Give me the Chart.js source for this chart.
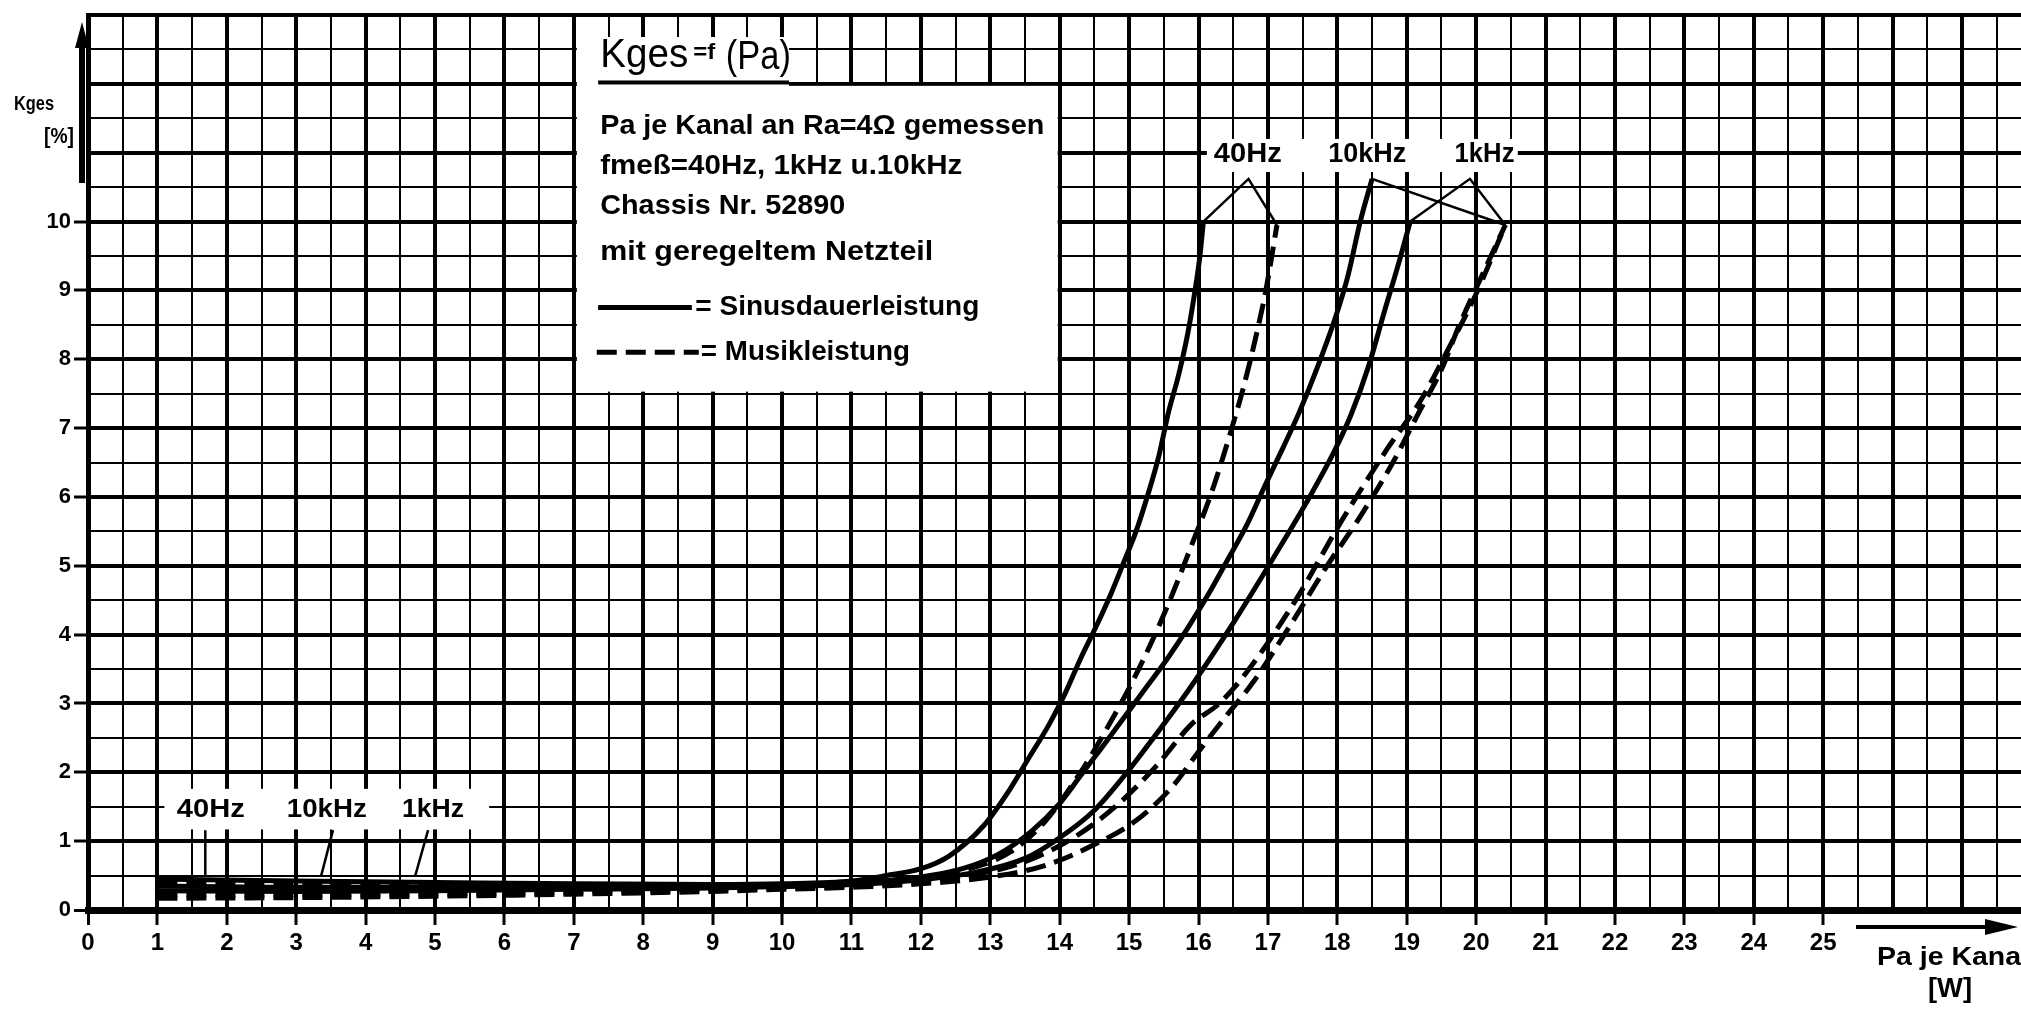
<!DOCTYPE html>
<html>
<head>
<meta charset="utf-8">
<script src="https://cdn.jsdelivr.net/npm/chart.js@4.4.1/dist/chart.umd.min.js"></script>
<style>
  html, body { margin: 0; padding: 0; background: #fff; }
  #wrap { width: 2021px; height: 1011px; }
</style>
</head>
<body>
<div id="wrap"><canvas id="Canvas" width="2021" height="1011"></canvas></div>
<script>
// Klirrfaktor Kges = f(Pa), Chassis Nr. 52890
const xTicks = [0, 1, 2, 3, 4, 5, 6, 7, 8, 9, 10, 11, 12, 13, 14, 15, 16, 17, 18, 19, 20, 21, 22, 23, 24, 25];
const yTicks = [0, 1, 2, 3, 4, 5, 6, 7, 8, 9, 10];

// Sinusdauerleistung (durchgezogen), [Pa in W, Kges in %]
const sinus40Hz = [[1, 0.45], [3, 0.42], [5, 0.4], [7, 0.38], [9, 0.37], [10, 0.38], [11, 0.42], [11.5, 0.5], [12, 0.6], [12.4, 0.78], [12.9, 1.22], [13.28, 1.75], [13.55, 2.2], [13.85, 2.7], [14.08, 3.15], [14.3, 3.65], [14.54, 4.15], [14.75, 4.62], [14.93, 5.07], [15.1, 5.5], [15.26, 6.0], [15.43, 6.6], [15.56, 7.2], [15.72, 7.8], [15.85, 8.4], [15.95, 9.0], [16.02, 9.5], [16.07, 10.0]];
const sinus10kHz = [[1, 0.35], [3, 0.33], [5, 0.33], [7, 0.33], [9, 0.34], [10, 0.36], [11, 0.4], [12, 0.48], [12.6, 0.6], [13.1, 0.8], [13.6, 1.15], [14.0, 1.55], [14.3, 1.95], [14.6, 2.35], [15.2, 3.17], [15.55, 3.65], [15.86, 4.12], [16.15, 4.6], [16.41, 5.07], [16.7, 5.6], [16.96, 6.17], [17.22, 6.72], [17.46, 7.25], [17.7, 7.85], [17.97, 8.6], [18.15, 9.2], [18.33, 10.0], [18.5, 10.62]];
const sinus1kHz = [[1, 0.28], [3, 0.27], [5, 0.28], [7, 0.3], [9, 0.32], [10, 0.34], [11, 0.37], [12, 0.44], [12.8, 0.55], [13.5, 0.75], [14.0, 1.05], [14.5, 1.45], [14.93, 1.95], [15.2, 2.3], [15.86, 3.2], [16.52, 4.2], [17.13, 5.2], [17.6, 6.0], [17.95, 6.65], [18.2, 7.2], [18.45, 7.9], [18.68, 8.7], [18.9, 9.45], [19.05, 10.0]];

// Musikleistung (gestrichelt)
const musik40Hz = [[1, 0.4], [3, 0.38], [5, 0.37], [7, 0.36], [9, 0.35], [10, 0.36], [11, 0.39], [12, 0.47], [12.7, 0.6], [13.3, 0.85], [13.8, 1.3], [14.3, 2.0], [14.71, 2.69], [15.09, 3.4], [15.53, 4.36], [15.92, 5.35], [16.2, 6.1], [16.45, 6.9], [16.65, 7.6], [16.82, 8.3], [16.97, 9.0], [17.13, 9.95]];
const musik10kHz = [[1, 0.22], [3, 0.22], [5, 0.23], [7, 0.26], [9, 0.3], [10, 0.32], [11, 0.35], [12, 0.42], [12.8, 0.52], [13.5, 0.7], [14.2, 1.05], [14.8, 1.5], [15.4, 2.1], [15.9, 2.7], [16.3, 3.0], [16.69, 3.45], [17.4, 4.5], [18.06, 5.65], [18.72, 6.7], [19.2, 7.4], [19.6, 8.15], [20.0, 8.95], [20.42, 9.95]];
const musik1kHz = [[1, 0.17], [3, 0.18], [5, 0.2], [7, 0.23], [9, 0.27], [10, 0.3], [11, 0.33], [12, 0.38], [13, 0.48], [13.8, 0.65], [14.5, 0.95], [15.1, 1.3], [15.63, 1.8], [16.0, 2.3], [16.4, 2.82], [16.78, 3.3], [17.3, 4.1], [17.84, 4.98], [18.32, 5.7], [18.8, 6.5], [19.16, 7.2], [19.5, 7.85], [19.76, 8.5], [20.1, 9.25], [20.42, 9.95]];

// Hinweislinien zu den Frequenz-Beschriftungen
const spitze40Hz = [[16.07, 10.0], [16.72, 10.62], [17.13, 9.95]];
const spitze10kHz = [[18.5, 10.62], [20.42, 9.95]];
const spitze1kHz = [[19.05, 10.0], [19.91, 10.62], [20.42, 9.95]];
const zeiger40Hz = [[1.69, 1.16], [1.69, 0.5]];
const zeiger10kHz = [[3.53, 1.16], [3.36, 0.5]];
const zeiger1kHz = [[4.9, 1.16], [4.71, 0.48]];

const schwarz = '#000';
const schrift = '"Liberation Sans", "DejaVu Sans", Arial, sans-serif';

function kurve(daten, gestrichelt, breite, glatt) {
  return {
    data: daten.map(p => ({ x: p[0], y: p[1] })),
    borderColor: schwarz,
    borderWidth: breite,
    borderDash: gestrichelt ? [20, 9] : [],
    borderCapStyle: 'butt',
    pointRadius: 0,
    fill: false,
    tension: 0,
    cubicInterpolationMode: glatt ? 'monotone' : 'default'
  };
}

function halbSchritte(scale) {
  const t = [];
  for (let v = 0; v <= scale.max + 1e-9; v += 0.5) t.push({ value: v });
  scale.ticks = t;
}

function gitterBreite(v) {
  if (v === 0) return 5;
  return Number.isInteger(v) ? 4 : 2;
}

function schreibe(ctx, text, x, y, groesse, gewicht, breite, ausrichtung) {
  ctx.save();
  ctx.font = gewicht + ' ' + groesse + 'px ' + schrift;
  const w = ctx.measureText(text).width;
  const k = breite ? breite / w : 1;
  ctx.translate(x, y);
  ctx.scale(k, 1);
  ctx.fillStyle = schwarz;
  ctx.textBaseline = 'middle';
  ctx.textAlign = ausrichtung || 'left';
  ctx.fillText(text, 0, 0);
  ctx.restore();
}

const beschriftung = {
  id: 'beschriftung',
  beforeDatasetsDraw(chart) {
    const ctx = chart.ctx;
    const X = v => chart.scales.x.getPixelForValue(v);
    const Y = v => chart.scales.y.getPixelForValue(v);
    ctx.save();
    ctx.fillStyle = '#fff';
    // Legendenkasten
    ctx.fillRect(X(7) + 3, Y(12) + 2, X(14) - X(7) - 5, Y(7.5) - Y(12) - 4);
    ctx.fillRect(X(7) + 3, Y(12.68), X(10.1) - X(7) - 3, Y(12) - Y(12.68) + 3);
    // Frequenzfelder
    ctx.fillRect(X(16.12), Y(11.2), X(20.6) - X(16.12), Y(10.72) - Y(11.2));
    ctx.fillRect(X(1.1), Y(1.76), X(5.78) - X(1.1), Y(1.17) - Y(1.76));
    ctx.restore();
  },
  afterDraw(chart) {
    const ctx = chart.ctx;
    const a = chart.chartArea;
    const X = v => chart.scales.x.getPixelForValue(v);
    const Y = v => chart.scales.y.getPixelForValue(v);

    // Titel
    schreibe(ctx, 'Kges', X(7.38), Y(12.4), 40, 'normal', 88);
    schreibe(ctx, '=f', X(8.72), Y(12.45), 22, 'bold', 22);
    schreibe(ctx, '(Pa)', X(9.19), Y(12.37), 40, 'normal', 65);
    ctx.fillStyle = schwarz;
    ctx.fillRect(X(7.35), Y(12.02) - 2, X(10.1) - X(7.35), 4);

    schreibe(ctx, 'Pa je Kanal an Ra=4Ω gemessen', X(7.38), Y(11.38), 28, 'bold', 444);
    schreibe(ctx, 'fmeß=40Hz, 1kHz u.10kHz', X(7.38), Y(10.8), 28, 'bold', 362);
    schreibe(ctx, 'Chassis Nr. 52890', X(7.38), Y(10.22), 28, 'bold', 245);
    schreibe(ctx, 'mit geregeltem Netzteil', X(7.38), Y(9.55), 28, 'bold', 333);

    ctx.save();
    ctx.strokeStyle = schwarz;
    ctx.lineWidth = 5;
    ctx.beginPath();
    ctx.moveTo(X(7.35), Y(8.75));
    ctx.lineTo(X(8.7), Y(8.75));
    ctx.stroke();
    ctx.setLineDash([20, 9]);
    ctx.beginPath();
    ctx.moveTo(X(7.33), Y(8.1));
    ctx.lineTo(X(8.8), Y(8.1));
    ctx.stroke();
    ctx.restore();
    schreibe(ctx, '= Sinusdauerleistung', X(8.75), Y(8.75), 28, 'bold', 284);
    schreibe(ctx, '= Musikleistung', X(8.83), Y(8.1), 28, 'bold', 209);

    // Frequenzen oben und unten
    schreibe(ctx, '40Hz', X(16.71), Y(10.97), 28, 'bold', 68, 'center');
    schreibe(ctx, '10kHz', X(18.43), Y(10.97), 28, 'bold', 78, 'center');
    schreibe(ctx, '1kHz', X(20.12), Y(10.97), 28, 'bold', 60, 'center');
    schreibe(ctx, '40Hz', X(1.77), Y(1.45), 26, 'bold', 68, 'center');
    schreibe(ctx, '10kHz', X(3.44), Y(1.45), 26, 'bold', 80, 'center');
    schreibe(ctx, '1kHz', X(4.97), Y(1.45), 26, 'bold', 62, 'center');

    // Achsentitel
    schreibe(ctx, 'Kges', a.left - 54, 104, 20, 'bold', 40, 'center');
    schreibe(ctx, '[%]', a.left - 29, 137, 22, 'bold', 30, 'center');
    ctx.save();
    ctx.fillStyle = schwarz;
    ctx.fillRect(a.left - 9, 40, 6, 143);
    ctx.beginPath();
    ctx.moveTo(a.left - 13, 48);
    ctx.lineTo(a.left + 1, 48);
    ctx.lineTo(a.left - 6, 22);
    ctx.closePath();
    ctx.fill();
    ctx.fillRect(1856, a.bottom + 15, 135, 4);
    ctx.beginPath();
    ctx.moveTo(1985, a.bottom + 9);
    ctx.lineTo(2018, a.bottom + 17);
    ctx.lineTo(1985, a.bottom + 25);
    ctx.closePath();
    ctx.fill();
    ctx.restore();
    schreibe(ctx, 'Pa je Kanal', 1877, a.bottom + 48, 26, 'bold', 152);
    schreibe(ctx, '[W]', 1950, a.bottom + 79, 28, 'bold', 44, 'center');
  }
};

new Chart(document.getElementById('Canvas').getContext('2d'), {
  type: 'line',
  data: {
    datasets: [
      kurve(sinus40Hz, false, 5, true),
      kurve(sinus10kHz, false, 5, true),
      kurve(sinus1kHz, false, 5, true),
      kurve(musik40Hz, true, 5, true),
      kurve(musik10kHz, true, 5, true),
      kurve(musik1kHz, true, 5, true),
      kurve(spitze40Hz, false, 2.5, false),
      kurve(spitze10kHz, false, 2.5, false),
      kurve(spitze1kHz, false, 2.5, false),
      kurve(zeiger40Hz, false, 2.5, false),
      kurve(zeiger10kHz, false, 2.5, false),
      kurve(zeiger1kHz, false, 2.5, false)
    ]
  },
  options: {
    responsive: false,
    devicePixelRatio: 1,
    animation: false,
    layout: { padding: { left: 0, top: 15, right: 0, bottom: 0 } },
    plugins: { legend: { display: false }, tooltip: { enabled: false } },
    scales: {
      x: {
        type: 'linear',
        min: 0,
        max: 27.85,
        afterBuildTicks: halbSchritte,
        afterFit: s => { s.height = 101; s.paddingLeft = 0; s.paddingRight = 0; },
        grid: {
          color: schwarz,
          lineWidth: c => gitterBreite(c.tick.value),
          tickLength: 15,
          tickWidth: 3,
          tickColor: c => xTicks.includes(c.tick.value) ? schwarz : 'rgba(0,0,0,0)'
        },
        border: { display: true, color: schwarz, width: 7 },
        ticks: {
          autoSkip: false,
          maxRotation: 0,
          padding: 4,
          color: schwarz,
          font: { family: schrift, size: 24, weight: 'bold' },
          callback: v => xTicks.includes(v) ? String(v) : ''
        }
      },
      y: {
        type: 'linear',
        min: 0,
        max: 13,
        afterBuildTicks: halbSchritte,
        afterFit: s => { s.width = 88; s.paddingTop = 0; s.paddingBottom = 0; },
        grid: {
          color: schwarz,
          lineWidth: c => gitterBreite(c.tick.value),
          tickLength: 14,
          tickWidth: 3,
          tickColor: c => yTicks.includes(c.tick.value) ? schwarz : 'rgba(0,0,0,0)'
        },
        border: { display: true, color: schwarz, width: 5 },
        ticks: {
          autoSkip: false,
          padding: 3,
          color: schwarz,
          font: { family: schrift, size: 22, weight: 'bold' },
          callback: v => yTicks.includes(v) ? String(v) : ''
        }
      }
    }
  },
  plugins: [beschriftung]
});
</script>
</body>
</html>
